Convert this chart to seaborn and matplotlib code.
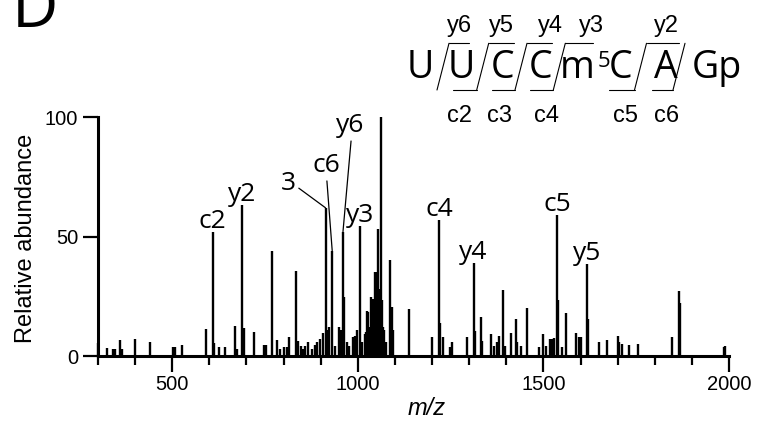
import matplotlib
matplotlib.use("Agg")
import matplotlib.pyplot as plt
from matplotlib.lines import Line2D
from matplotlib.ticker import MultipleLocator
import seaborn as sns

# -----------------------------------
# Spectrum peaks (m/z, relative abundance)
# -----------------------------------
mz = [301, 323, 341, 346, 359, 364, 401, 439, 501, 507, 527,
      590, 609, 613, 627, 642, 669, 675, 689, 692, 721, 747, 752,
      769, 781, 790, 802, 808, 815, 833, 840, 846, 853, 859, 867, 877, 885, 891, 898,
      907, 913, 918, 922, 931, 938, 949, 954, 960, 963, 970, 975, 988, 993, 998,
      1007, 1012, 1018, 1022, 1026, 1028, 1031, 1033, 1035, 1037, 1040, 1042, 1044,
      1046, 1048, 1050, 1052, 1055, 1057, 1059, 1063, 1066, 1068, 1070, 1075, 1087,
      1091, 1096, 1139, 1200, 1219, 1222, 1230, 1248, 1254, 1293, 1312, 1316, 1332,
      1335, 1358, 1368, 1374, 1381, 1392, 1396, 1412, 1426, 1429, 1439, 1456, 1487,
      1500, 1506, 1518, 1522, 1528, 1537, 1540, 1549, 1561, 1589, 1596, 1601, 1617,
      1621, 1650, 1672, 1700, 1703, 1711, 1731, 1756, 1847, 1866, 1868, 1986, 1990]
abundance = [5.3, 3.2, 3.0, 3.0, 6.7, 3.0, 7.0, 5.7, 3.6, 3.6, 4.6,
             11.2, 52, 5.3, 3.6, 3.6, 12.6, 3.0, 63, 11.6, 9.9, 4.6, 4.6,
             44, 6.7, 3.0, 3.6, 3.6, 7.8, 35.6, 6.4, 4.0, 3.0, 4.0, 6.0, 3.0, 4.6, 6.0, 7.0,
             9.5, 62, 10.9, 12.3, 44, 4.0, 12.3, 10.9, 52, 24.8, 6.0, 4.0, 8.0, 8.5, 11,
             54.4, 6, 9, 10, 19, 18.6, 8, 12, 24.8, 24, 18, 23.8, 22,
             35, 30, 35, 22, 53, 28, 25, 100, 23.4, 12, 11, 6, 40,
             20.6, 11, 19.5, 7.8, 57, 13.7, 7.8, 3.9, 6, 8, 38.8, 10.5, 16.2,
             6.3, 9, 4, 6, 8.4, 27.6, 4, 9.5, 15.5, 6, 4.3, 20.2, 3.6,
             9, 4, 7, 7, 7.7, 59, 23.4, 3.8, 17.9, 9.5, 8, 8, 38.4,
             15.5, 5.7, 6.7, 8.4, 6, 5, 4.6, 5, 8, 27, 22, 3.6, 4]

# labelled fragment ions
ion_labels = ["c2", "y2", "3", "c6", "y6", "y3", "c4", "y4", "c5", "y5"]
ion_mz = [609, 689, 913, 931, 960, 1007, 1219, 1312, 1537, 1617]

# sequence header
residues = ["U", "U", "C", "C", "m", "C", "A", "Gp"]
y_ions = ["y6", "y5", "y4", "y3", "y2"]
c_ions = ["c2", "c3", "c4", "c5", "c6"]

x_ticks = [500, 1000, 1500, 2000]
y_ticks = [0, 50, 100]

# -----------------------------------
# Plot Style
# -----------------------------------
sns.set_style("ticks")
plt.rcParams["font.family"] = ["Liberation Sans", "DejaVu Sans"]
plt.rcParams["text.color"] = "black"
plt.rcParams["axes.labelcolor"] = "black"
W, H = 765, 424


def fpx(x, y):
    # pixel (from top-left) -> figure fraction
    return x / W, 1 - y / H


fig = plt.figure(figsize=(W / 100, H / 100), dpi=100)
ax = fig.add_axes([98 / W, 1 - 356 / H, (729 - 98) / W, (356 - 117) / H])

ax.vlines(mz, 0, abundance, color="black", lw=1.7, clip_on=False)
ax.set_xlim(300, 2000)
ax.set_ylim(0, 100)
sns.despine(ax=ax)
ax.spines["left"].set_bounds(0, 100)
for s in ["left", "bottom"]:
    ax.spines[s].set_linewidth(2.2)
    ax.spines[s].set_color("black")

ax.set_xticks(x_ticks)
ax.xaxis.set_minor_locator(MultipleLocator(100))
ax.set_yticks(y_ticks)
ax.tick_params(axis="both", which="both", direction="out", width=1.6,
               color="black", labelsize=14.5, labelcolor="black")
ax.tick_params(axis="x", which="major", length=11.5, pad=2)
ax.tick_params(axis="x", which="minor", length=6.5)
ax.tick_params(axis="y", which="major", length=10.8, pad=3.5)

ax.set_xlabel("m/z", fontsize=17, style="italic")
ax.xaxis.set_label_coords((427 - 98) / 631, -0.17)
ax.set_ylabel("Relative abundance", fontsize=17)
ax.yaxis.set_label_coords((37 - 98) / 631, 0.494)

# -----------------------------------
# Peak labels
# -----------------------------------
peak_height = dict(zip(mz, abundance))
leader = {"3": ((-27, 13), (1, 0.4)),
          "c6": ((-4, 57), (0.5, 0)),
          "y6": ((5, 72), (0.55, 0))}
for lab, m in zip(ion_labels, ion_mz):
    h = peak_height[m]
    if lab in leader:
        off, rel = leader[lab]
        ax.annotate(lab, (m, h), xytext=off, textcoords="offset points",
                    ha="center", va="baseline", fontsize=19, family="Open Sans",
                    annotation_clip=False,
                    arrowprops=dict(arrowstyle="-", color="black", lw=0.9,
                                    relpos=rel, shrinkA=0, shrinkB=0))
    else:
        ax.annotate(lab, (m, h), xytext=(0, 3), textcoords="offset points",
                    ha="center", va="baseline", fontsize=19, family="Open Sans",
                    annotation_clip=False)

# -----------------------------------
# Panel letter and sequence header
# -----------------------------------
fig.text(*fpx(12, 27), "D", fontsize=46, family="Open Sans", ha="left", va="baseline")

residue_x = [420, 461, 502.5, 541, 577, 621, 665.5, 716.5]
for r, x in zip(residues, residue_x):
    fig.text(*fpx(x, 78.3), r, fontsize=27, family="Open Sans", ha="center", va="baseline")
fig.text(*fpx(604, 66.7), "5", fontsize=16, family="Open Sans", ha="center", va="baseline")

for lab, x in zip(y_ions, [460, 501.7, 550, 591.7, 666.7]):
    fig.text(*fpx(x, 31.7), lab, fontsize=17, ha="center", va="baseline")
for lab, x in zip(c_ions, [460, 500, 546.7, 625, 666.7]):
    fig.text(*fpx(x, 121.7), lab, fontsize=17, ha="center", va="baseline")


def seg(x0, y0, x1, y1):
    (a, b), (c, d) = fpx(x0, y0), fpx(x1, y1)
    fig.add_artist(Line2D([a, c], [b, d], transform=fig.transFigure,
                          color="black", lw=0.8))


slash_bottom = [437, 476.7, 515, 553.3, 634.5, 673]
top_bar_end = [469, 514, 552, 593, 679, None]
bottom_bar_start = [None, 453, 492, 530, 609, 652]
for xb, te, bs in zip(slash_bottom, top_bar_end, bottom_bar_start):
    xt = xb + 12
    seg(xb, 90, xt, 43.3)
    if te is not None:
        seg(xt, 43.3, te, 43.3)
    if bs is not None:
        seg(bs, 90, xb, 90)

plt.savefig("out.png", dpi=100)
plt.close()
